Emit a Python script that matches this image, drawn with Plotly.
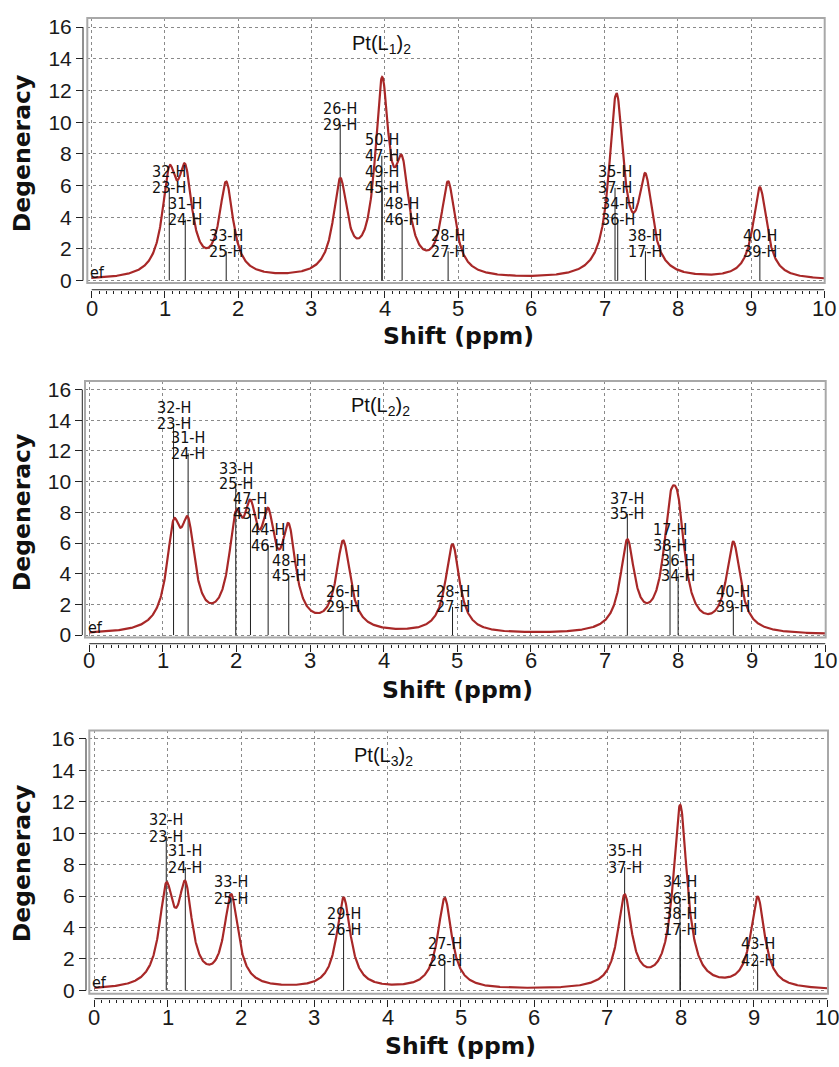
import numpy as np
import plotly.graph_objects as go

# ---------------- data: computed 1H shifts (ppm), atom labels per line, label heights ----------------
shifts_L1 = [1.059, 1.277, 1.836, 3.392, 3.960, 3.965, 4.237, 4.865, 7.143, 7.180, 7.558, 9.120]
labels_L1 = [["32-H", "23-H"], ["31-H", "24-H"], ["33-H", "25-H"], ["26-H", "29-H"],
             ["50-H", "47-H"], ["49-H", "45-H"], ["48-H", "46-H"], ["28-H", "27-H"],
             ["35-H", "37-H"], ["34-H", "36-H"], ["38-H", "17-H"], ["40-H", "39-H"]]
tops_L1 = [5.85, 3.85, 1.85, 9.85, 7.88, 5.88, 3.85, 1.85, 5.85, 3.85, 1.85, 1.85]

shifts_L2 = [1.145, 1.343, 1.990, 2.190, 2.430, 2.710, 3.450, 4.935, 7.310, 7.890, 8.000, 8.750]
labels_L2 = [["32-H", "23-H"], ["31-H", "24-H"], ["33-H", "25-H"], ["47-H", "43-H"],
             ["44-H", "46-H"], ["48-H", "45-H"], ["26-H", "29-H"], ["28-H", "27-H"],
             ["37-H", "35-H"], ["17-H", "38-H"], ["36-H", "34-H"], ["40-H", "39-H"]]
tops_L2 = [13.80, 11.85, 9.85, 7.90, 5.86, 3.87, 1.84, 1.84, 7.90, 5.86, 3.87, 1.84]

shifts_L3 = [0.980, 1.240, 1.865, 3.400, 4.780, 7.235, 7.990, 7.995, 9.050]
labels_L3 = [["32-H", "23-H"], ["31-H", "24-H"], ["33-H", "25-H"], ["29-H", "26-H"],
             ["27-H", "28-H"], ["35-H", "37-H"], ["34-H", "36-H"], ["38-H", "17-H"],
             ["43-H", "42-H"]]
tops_L3 = [9.81, 7.84, 5.87, 3.86, 1.91, 7.84, 5.87, 3.86, 1.91]

titles = ["Pt(L<sub>1</sub>)<sub>2</sub>", "Pt(L<sub>2</sub>)<sub>2</sub>", "Pt(L<sub>3</sub>)<sub>2</sub>"]
x_ticks = list(range(0, 11))
y_ticks = list(range(0, 17, 2))

# Lorentzian broadening used for the simulated spectrum
HWHM = 0.115          # ppm
PEAK_PER_H = 2.9      # height of one proton's line

# ---------------- page geometry (pixels) ----------------
W, H = 839, 1067
panels = [
    dict(shifts=shifts_L1, labels=labels_L1, tops=tops_L1,
         xdom=(87.3, 824.7), xr=(-0.06, 10.005), ydom=(15.1, 283.1), yr=(-0.15, 16.58),
         xaxis_y=290, xtick_y=309, yaxis_x=83.0, title_y=337, ylab_y=152, lab_px=16.0),
    dict(shifts=shifts_L2, labels=labels_L2, tops=tops_L2,
         xdom=(85.0, 825.7), xr=(-0.058, 10.005), ydom=(382.3, 641.7), yr=(-0.155, 16.56),
         xaxis_y=648, xtick_y=665, yaxis_x=82.3, title_y=695, ylab_y=515, lab_px=15.5),
    dict(shifts=shifts_L3, labels=labels_L3, tops=tops_L3,
         xdom=(89.3, 828.0), xr=(-0.07, 10.01), ydom=(735.7, 1002.0), yr=(-0.21, 16.54),
         xaxis_y=1007, xtick_y=1026, yaxis_x=86.0, title_y=1055, ylab_y=870, lab_px=16.5),
]

CURVE = "#a82828"
STICK = "#1e1e1e"
GRID = "#8a8a8a"
LABEL_FONT = dict(family="DejaVu Sans Condensed, Liberation Sans Narrow, DejaVu Sans", size=16, color="#111111")
TITLE_FONT = dict(family="DejaVu Sans", size=23.5, color="#111111")
XTICK_FONT = dict(family="Liberation Sans, Arial", size=22, color="#1a1a1a")

fig = go.Figure()
annotations = []
shapes = []
xgrid = np.linspace(0, 10, 2001)

for i, p in enumerate(panels, start=1):
    sfx = "" if i == 1 else str(i)
    xa, ya = "x" + sfx, "y" + sfx

    # spectrum: one Lorentzian per line, weighted by its number of protons
    spec = np.zeros_like(xgrid)
    for s, labs in zip(p["shifts"], p["labels"]):
        spec += len(labs) * PEAK_PER_H * HWHM**2 / ((xgrid - s) ** 2 + HWHM**2)

    # stick lines
    sx, sy = [], []
    for s, t in zip(p["shifts"], p["tops"]):
        sx += [s, s, None]
        sy += [0, t, None]
    fig.add_trace(go.Scatter(x=sx, y=sy, mode="lines", line=dict(color=STICK, width=1),
                             xaxis=xa, yaxis=ya, hoverinfo="skip", showlegend=False))
    fig.add_trace(go.Scatter(x=xgrid, y=spec, mode="lines", line=dict(color=CURVE, width=2.2),
                             xaxis=xa, yaxis=ya, hoverinfo="skip", showlegend=False))

    # atom labels stacked above each stick
    for s, t, labs in zip(p["shifts"], p["tops"], p["labels"]):
        n = len(labs)
        for j, lab in enumerate(labs):
            annotations.append(dict(x=s, y=t, xref=xa, yref=ya, text=lab, showarrow=False,
                                    xanchor="center", yanchor="middle",
                                    yshift=(n - 1 - j) * p["lab_px"], font=LABEL_FONT))
    # reference marker label (clipped "Ref")
    annotations.append(dict(x=p["xr"][0], y=0.5, xref=xa, yref=ya, text="ef", showarrow=False,
                            xanchor="left", yanchor="middle", xshift=1, font=LABEL_FONT))
    # compound name
    annotations.append(dict(x=3.95, y=14.9, xref=xa, yref=ya, text=titles[i - 1], showarrow=False,
                            xanchor="center", yanchor="middle",
                            font=dict(family="Liberation Sans, Arial", size=20, color="#111111")))
    # shift tick labels below the detached axis line
    for v in x_ticks:
        annotations.append(dict(x=v, y=1 - p["xtick_y"] / H, xref=xa, yref="paper", text=str(v),
                                showarrow=False, xanchor="center", yanchor="middle", font=XTICK_FONT))
    # axis titles
    annotations.append(dict(x=5.0, y=1 - p["title_y"] / H, xref=xa, yref="paper",
                            text="<b>Shift (ppm)</b>", showarrow=False, xanchor="center", yanchor="middle",
                            font=TITLE_FONT))
    annotations.append(dict(x=22 / W, y=1 - p["ylab_y"] / H, xref="paper", yref="paper",
                            text="<b>Degeneracy</b>", textangle=-90, showarrow=False,
                            xanchor="center", yanchor="middle", font=TITLE_FONT))

    # frame and detached axis lines
    shapes.append(dict(type="rect", xref=xa + " domain", yref=ya + " domain", x0=0, x1=1, y0=0, y1=1,
                       line=dict(color="#a8a8a8", width=2), layer="above"))
    shapes.append(dict(type="line", xref=xa, yref="paper", x0=0, x1=10,
                       y0=1 - p["xaxis_y"] / H, y1=1 - p["xaxis_y"] / H, line=dict(color="#222222", width=1)))
    shapes.append(dict(type="line", xref="paper", yref=ya, x0=p["yaxis_x"] / W, x1=p["yaxis_x"] / W,
                       y0=0, y1=16, line=dict(color="#222222", width=1)))

    fig.update_layout(**{
        "xaxis" + sfx: dict(domain=[p["xdom"][0] / W, p["xdom"][1] / W], range=list(p["xr"]),
                            anchor="free", position=1 - p["xaxis_y"] / H, showline=False,
                            tickmode="array", tickvals=x_ticks, showticklabels=False,
                            ticks="outside", ticklen=7, tickwidth=1, tickcolor="#222222",
                            minor=dict(dtick=0.1, tick0=0, ticks="outside", ticklen=3, tickwidth=1,
                                       tickcolor="#222222", showgrid=False),
                            showgrid=True, gridcolor=GRID, griddash="dot", gridwidth=1, zeroline=False),
        "yaxis" + sfx: dict(domain=[1 - p["ydom"][1] / H, 1 - p["ydom"][0] / H], range=list(p["yr"]),
                            anchor="free", position=p["yaxis_x"] / W, showline=False,
                            tickmode="array", tickvals=y_ticks, ticktext=[str(v) for v in y_ticks],
                            ticks="outside", ticklen=7, tickwidth=1, tickcolor="#222222",
                            showgrid=True, gridcolor=GRID, griddash="dot", gridwidth=1, zeroline=False,
                            tickfont=dict(family="Liberation Sans, Arial", size=21, color="#1a1a1a")),
    })

fig.update_layout(width=W, height=H, margin=dict(l=0, r=0, t=0, b=0),
                  paper_bgcolor="white", plot_bgcolor="white",
                  annotations=annotations, shapes=shapes, showlegend=False)

fig.write_html("out.html")
